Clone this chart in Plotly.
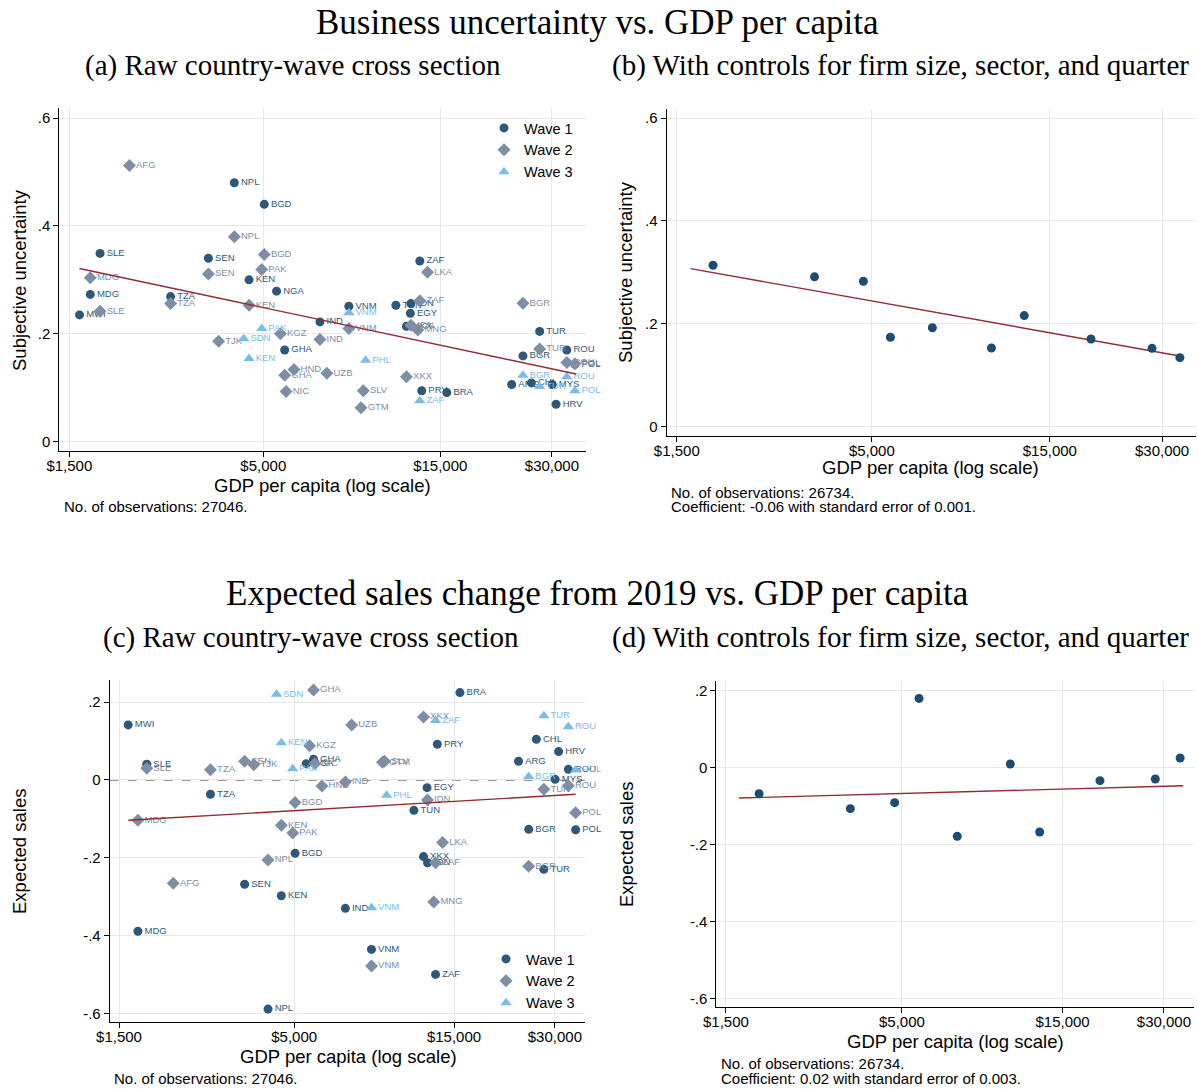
import plotly.graph_objects as go

# ---------------- data ----------------
countries = ["AFG", "ARG", "BGD", "BGR", "BRA", "CHL", "EGY", "GHA", "GTM", "HND",
             "HRV", "IDN", "IND", "KEN", "KGZ", "LKA", "MDG", "MNG", "MWI", "MYS",
             "NGA", "NIC", "NPL", "PAK", "PHL", "POL", "PRY", "ROU", "SDN", "SEN",
             "SLE", "SLV", "TJK", "TUN", "TUR", "TZA", "UZB", "VNM", "XKX", "ZAF"]
gdp_pc = [2178, 23370, 5030, 25060, 15620, 26410, 12460, 5710, 9171, 6050,
          30780, 12500, 7108, 4577, 5560, 13860, 1708, 13050, 1598, 30050,
          5430, 5760, 4177, 4950, 9440, 34600, 13370, 32900, 4430, 3556,
          1815, 9303, 3790, 11385, 27800, 2812, 7420, 8505, 12160, 13210]

# Panel (a): subjective uncertainty, raw country-wave
a_w1_iso = ["NPL", "BGD", "SLE", "SEN", "KEN", "NGA", "MDG", "TZA", "MWI", "GHA",
            "ZAF", "VNM", "TUN", "IDN", "EGY", "IND", "XKX", "TUR", "ROU", "BGR",
            "ARG", "CHL", "MYS", "PRY", "BRA", "HRV", "POL"]
a_w1_val = [0.480, 0.440, 0.349, 0.340, 0.300, 0.279, 0.273, 0.269, 0.235, 0.170,
            0.335, 0.251, 0.253, 0.256, 0.238, 0.222, 0.214, 0.2045, 0.170, 0.159,
            0.106, 0.109, 0.106, 0.0945, 0.091, 0.0695, 0.1435]
a_w2_iso = ["AFG", "NPL", "BGD", "PAK", "SEN", "MDG", "TZA", "KEN", "SLE", "KGZ",
            "TJK", "HND", "GHA", "NIC", "ZAF", "LKA", "VNM", "IND", "UZB", "SLV",
            "GTM", "XKX", "BGR", "TUR", "IDN", "MNG", "ROU", "POL"]
a_w2_val = [0.512, 0.380, 0.347, 0.319, 0.311, 0.304, 0.256, 0.253, 0.242, 0.200,
            0.186, 0.134, 0.123, 0.093, 0.2615, 0.314, 0.210, 0.1895, 0.127, 0.0945,
            0.063, 0.1205, 0.2565, 0.172, 0.216, 0.207, 0.147, 0.1445]
a_w3_iso = ["PAK", "SDN", "KEN", "VNM", "PHL", "ZAF", "BGR", "TUR", "ROU", "POL"]
a_w3_val = [0.210, 0.191, 0.154, 0.239, 0.151, 0.076, 0.123, 0.1025, 0.1205, 0.0945]
a_fit_gdp = [1597, 34830]
a_fit_val = [0.321, 0.1255]

# Panel (b): binned with controls
b_gdp = [1876, 3510, 4745, 5607, 7265, 10464, 12810, 19340, 28190, 33480]
b_val = [0.3136, 0.291, 0.2825, 0.1734, 0.192, 0.1526, 0.2156, 0.170, 0.152, 0.1338]
b_fit_gdp = [1633, 34360]
b_fit_val = [0.307, 0.1357]

# Panel (c): expected sales change, raw country-wave
c_w1_iso = ["MWI", "SLE", "TZA", "BGD", "SEN", "KEN", "MDG", "NPL", "NGA", "GHA",
            "BRA", "PRY", "CHL", "HRV", "ARG", "ROU", "MYS", "EGY", "TUN", "BGR",
            "POL", "XKX", "IDN", "TUR", "IND", "VNM", "ZAF"]
c_w1_val = [0.1415, 0.0404, -0.0368, -0.1886, -0.268, -0.2976, -0.389, -0.589, 0.042, 0.0532,
            0.2246, 0.0918, 0.1046, 0.0729, 0.048, 0.0274, 0.0017, -0.0197, -0.078, -0.127,
            -0.128, -0.197, -0.2127, -0.2298, -0.330, -0.4356, -0.4999]
c_w2_iso = ["GHA", "UZB", "XKX", "KGZ", "GTM", "SLV", "HND", "IND", "BGD", "IDN",
            "KEN", "PAK", "LKA", "ZAF", "BGR", "MNG", "VNM", "TUR", "ROU", "POL",
            "NPL", "AFG", "MDG", "SLE", "TZA", "SEN", "TJK", "NIC"]
c_w2_val = [0.2315, 0.1415, 0.162, 0.088, 0.0455, 0.048, -0.0154, -0.0051, -0.058, -0.0514,
            -0.1166, -0.1364, -0.161, -0.2127, -0.222, -0.3138, -0.4785, -0.024, -0.0146, -0.084,
            -0.2058, -0.2658, -0.1037, 0.030, 0.0265, 0.048, 0.0394, 0.042]
c_w3_iso = ["SDN", "KEN", "PAK", "ZAF", "TUR", "ROU", "PHL", "BGR", "POL", "VNM"]
c_w3_val = [0.2204, 0.096, 0.029, 0.1526, 0.1654, 0.137, -0.0394, 0.0086, 0.0257, -0.3285]
c_fit_gdp = [1598, 34600]
c_fit_val = [-0.1037, -0.0368]

# Panel (d): binned with controls
d_gdp = [1882, 3513, 4756, 5620, 7298, 10490, 12826, 19370, 28290, 33520]
d_val = [-0.0683, -0.1072, -0.0917, 0.179, -0.179, 0.0086, -0.1678, -0.0346, -0.0303, 0.0242]
d_fit_gdp = [1639, 34230]
d_fit_val = [-0.0796, -0.0476]

x_tickvals = [1500, 5000, 15000, 30000]
x_ticktext = ["$1,500", "$5,000", "$15,000", "$30,000"]
y_top_tickvals = [0, 0.2, 0.4, 0.6]
y_top_ticktext = ["0", ".2", ".4", ".6"]
y_bot_tickvals = [-0.6, -0.4, -0.2, 0, 0.2]
y_bot_ticktext = ["-.6", "-.4", "-.2", "0", ".2"]

GDP = dict(zip(countries, gdp_pc))

# ---------------- style ----------------
W, H = 1198, 1089
SANS = "Liberation Sans, Arial, sans-serif"
SERIF = "Liberation Serif, Times New Roman, serif"
C_W1 = "#2f5878"
C_W2 = "#7e8fa5"
C_W3 = "#78bde9"
C_BIN = "#1f4a72"
C_FIT = "#932b30"


def fx(p):
    return p / W


def fy(p):
    return 1 - p / H


fig = go.Figure()

waves = [("Wave 1", "circle", C_W1, 9),
         ("Wave 2", "diamond", C_W2, 10),
         ("Wave 3", "triangle-up", C_W3, 10)]


def add_raw(xa, ya, data, legend_name, fit_x, fit_y):
    for (name, sym, col, sz), (iso, val) in zip(waves, data):
        xs = [GDP[c] for c in iso]
        fig.add_trace(go.Scatter(
            x=xs, y=val, mode="markers+text", text=iso, textposition="middle right",
            textfont=dict(family=SANS, size=9.5, color=col),
            marker=dict(size=9, color="rgba(0,0,0,0)"), cliponaxis=False,
            xaxis=xa, yaxis=ya, showlegend=False, hoverinfo="skip"))
        fig.add_trace(go.Scatter(
            x=xs, y=val, mode="markers", name=name, xaxis=xa, yaxis=ya,
            marker=dict(symbol=sym, color=col, size=sz, line=dict(width=0)),
            legend=legend_name, showlegend=True, hoverinfo="text", hovertext=iso))
    fig.add_trace(go.Scatter(x=fit_x, y=fit_y, mode="lines", xaxis=xa, yaxis=ya,
                             line=dict(color=C_FIT, width=1.4), showlegend=False))


def add_bin(xa, ya, gx, gy, fit_x, fit_y):
    fig.add_trace(go.Scatter(x=fit_x, y=fit_y, mode="lines", xaxis=xa, yaxis=ya,
                             line=dict(color=C_FIT, width=1.4), showlegend=False))
    fig.add_trace(go.Scatter(x=gx, y=gy, mode="markers", xaxis=xa, yaxis=ya,
                             marker=dict(color=C_BIN, size=9), showlegend=False))


# dashed zero line under panel (c) markers
fig.add_shape(type="line", xref="x3 domain", yref="y3", x0=0, x1=1, y0=0, y1=0,
              line=dict(color="#7a7a7a", width=1.5, dash="dash"), layer="below")

add_raw("x", "y", [(a_w1_iso, a_w1_val), (a_w2_iso, a_w2_val), (a_w3_iso, a_w3_val)],
        "legend", a_fit_gdp, a_fit_val)
add_bin("x2", "y2", b_gdp, b_val, b_fit_gdp, b_fit_val)
add_raw("x3", "y3", [(c_w1_iso, c_w1_val), (c_w2_iso, c_w2_val), (c_w3_iso, c_w3_val)],
        "legend2", c_fit_gdp, c_fit_val)
add_bin("x4", "y4", d_gdp, d_val, d_fit_gdp, d_fit_val)

axis_common = dict(showline=True, linecolor="black", linewidth=1, mirror=False,
                   ticks="outside", ticklen=5, tickwidth=1, tickcolor="black",
                   showgrid=True, gridcolor="#e8e8e8", gridwidth=1, zeroline=False,
                   automargin=False,
                   tickfont=dict(family=SANS, size=15, color="black"))

xa_common = dict(axis_common, type="log", tickmode="array",
                 tickvals=x_tickvals, ticktext=x_ticktext, ticklabelstandoff=-4)

fig.update_layout(
    width=W, height=H, margin=dict(l=0, r=0, t=0, b=0, autoexpand=False),
    paper_bgcolor="white", plot_bgcolor="white",
    font=dict(family=SANS, color="black"),
    xaxis=dict(xa_common, domain=[fx(59.3), fx(586)], range=[3.149, 4.569], anchor="y"),
    yaxis=dict(axis_common, domain=[fy(450.7), fy(108)], range=[-0.0167, 0.6186],
               tickmode="array", tickvals=y_top_tickvals, ticktext=y_top_ticktext, anchor="x"),
    xaxis2=dict(xa_common, domain=[fx(666.5), fx(1196)], range=[3.1485, 4.568], anchor="y2"),
    yaxis2=dict(axis_common, domain=[fy(435.7), fy(109)], range=[-0.018, 0.6175],
                tickmode="array", tickvals=y_top_tickvals, ticktext=y_top_ticktext, anchor="x2"),
    xaxis3=dict(xa_common, domain=[fx(109.7), fx(585)], range=[3.1483, 4.567], anchor="y3"),
    yaxis3=dict(axis_common, domain=[fy(1022.3), fy(680)], range=[-0.623, 0.257],
                tickmode="array", tickvals=y_bot_tickvals, ticktext=y_bot_ticktext, anchor="x3"),
    xaxis4=dict(xa_common, domain=[fx(716.4), fx(1193.5)], range=[3.1478, 4.565], anchor="y4"),
    yaxis4=dict(axis_common, domain=[fy(1007.3), fy(680.7)], range=[-0.6227, 0.2249],
                tickmode="array", tickvals=y_bot_tickvals, ticktext=y_bot_ticktext, anchor="x4"),
    legend=dict(x=fx(484), y=fy(112), xanchor="left", yanchor="top",
                bgcolor="rgba(0,0,0,0)", font=dict(family=SANS, size=14.5, color="black"),
                itemwidth=30, tracegroupgap=0),
    legend2=dict(x=fx(486), y=fy(943), xanchor="left", yanchor="top",
                 bgcolor="rgba(0,0,0,0)", font=dict(family=SANS, size=14.5, color="black"),
                 itemwidth=30, tracegroupgap=0),
    showlegend=True,
)


def ann(text, x, y, size, family=SANS, xanchor="center", angle=0):
    fig.add_annotation(text=text, x=fx(x), y=fy(y), xref="paper", yref="paper",
                       showarrow=False, xanchor=xanchor, yanchor="middle",
                       textangle=angle, font=dict(family=family, size=size, color="black"))


# titles
ann("Business uncertainty vs. GDP per capita", 597, 22, 35, SERIF)
ann("(a) Raw country-wave cross section", 293, 66, 29, SERIF)
ann("(b) With controls for firm size, sector, and quarter", 900, 66, 29, SERIF)
ann("Expected sales change from 2019 vs. GDP per capita", 597, 593, 35, SERIF)
ann("(c) Raw country-wave cross section", 311, 637, 29, SERIF)
ann("(d) With controls for firm size, sector, and quarter", 900, 637, 29, SERIF)

# axis titles
ann("Subjective uncertainty", 19, 280, 18.5, angle=-90)
ann("GDP per capita (log scale)", 322, 485, 18.5)
ann("Subjective uncertainty", 626, 272, 18.5, angle=-90)
ann("GDP per capita (log scale)", 930, 467, 18.5)
ann("Expected sales", 19, 852, 18.5, angle=-90)
ann("GDP per capita (log scale)", 348, 1056, 18.5)
ann("Expected sales", 626, 845, 18.5, angle=-90)
ann("GDP per capita (log scale)", 955, 1041, 18.5)

# notes
ann("No. of observations: 27046.", 62, 507, 15, xanchor="left")
ann("No. of observations: 26734.", 669, 492, 15, xanchor="left")
ann("Coefficient: -0.06 with standard error of 0.001.", 669, 507, 15, xanchor="left")
ann("No. of observations: 27046.", 112, 1078, 15, xanchor="left")
ann("No. of observations: 26734.", 719, 1063, 15, xanchor="left")
ann("Coefficient: 0.02 with standard error of 0.003.", 719, 1078, 15, xanchor="left")

fig.write_html("out.html")
